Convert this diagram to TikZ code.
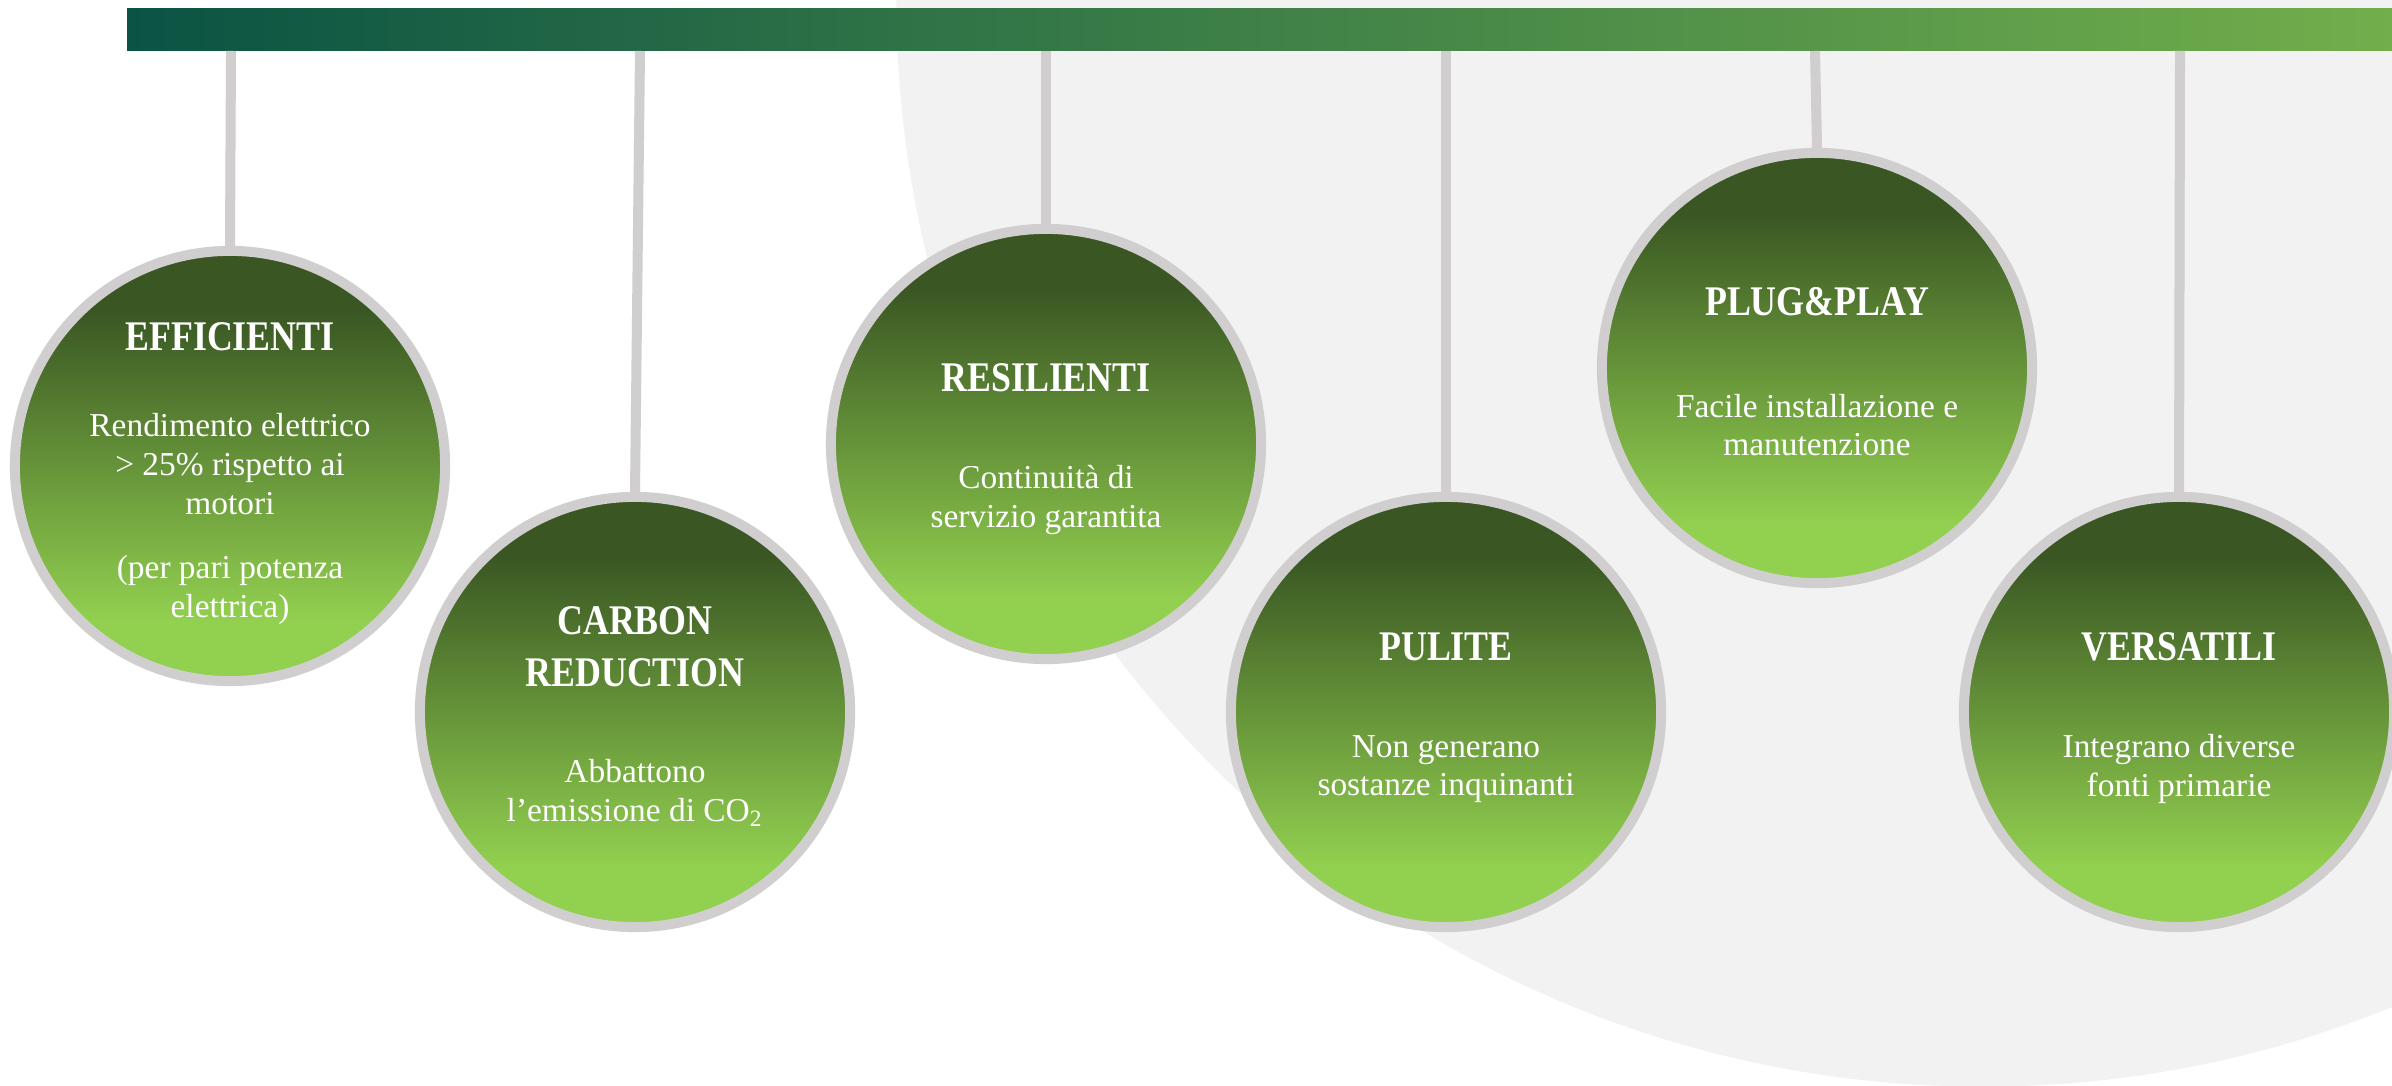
\documentclass[tikz,border=0pt]{standalone}
\usepackage{fontspec}
\usepackage{tikz}
\setmainfont{Liberation Serif}
\newfontfamily\headfont[FakeStretch=0.85]{Liberation Serif}
\definecolor{leafdark}{RGB}{58,87,35}
\definecolor{leaflight}{RGB}{146,208,80}
\definecolor{ringgray}{RGB}{208,206,207}
\definecolor{paper}{RGB}{242,242,242}
\definecolor{railstart}{RGB}{11,83,68}
\definecolor{railend}{RGB}{114,174,75}
\pgfdeclareverticalshading{leaf}{100bp}{color(0bp)=(leaflight); color(32bp)=(leaflight); color(68bp)=(leafdark); color(100bp)=(leafdark)}

\tikzset{
  bead/.style={circle, minimum size=4.3cm, inner sep=0pt, draw=ringgray, line width=1mm, shade, shading=leaf},
  cord/.style={draw=ringgray, line width=1mm},
  head/.style={text=white, align=center, font=\headfont\bfseries\fontsize{12}{14.8}\selectfont},
  note/.style={text=white, align=center, font=\fontsize{9.5}{11}\selectfont},
}

\begin{document}
\begin{tikzpicture}[x=0.01cm, y=-0.01cm]
    \useasboundingbox (0,0) rectangle (2392,1086);
    \clip (0,0) rectangle (2392,1086);
    \fill[white] (0,0) rectangle (2392,1086);

    % Pale disc behind the right half
    \fill[paper] (1983,0) circle [radius=10.86cm];

    % Top rail
    \shade[left color=railstart, right color=railend] (127,9) rectangle (2392,51);

    % Hanging points on the rail
    \coordinate (h1) at (231,51);
    \coordinate (h2) at (640,51);
    \coordinate (h3) at (1046,51);
    \coordinate (h4) at (1446,51);
    \coordinate (h5) at (1815,51);
    \coordinate (h6) at (2180,51);

    % Beads
    \node[bead] (efficienti) at (230,466) {};
    \node[bead] (carbon) at (635,712) {};
    \node[bead] (resilienti) at (1046,444) {};
    \node[bead] (pulite) at (1446,712) {};
    \node[bead] (plugplay) at (1817,368) {};
    \node[bead] (versatili) at (2179,712) {};

    % Cords
    \draw[cord] (h1) -- (efficienti.north);
    \draw[cord] (h2) -- (carbon.north);
    \draw[cord] (h3) -- (resilienti.north);
    \draw[cord] (h4) -- (pulite.north);
    \draw[cord] (h5) -- (plugplay.north);
    \draw[cord] (h6) -- (versatili.north);

    % Labels
    \node[head] (efficienti-t) at (230,337) {EFFICIENTI};
    \node[note] (efficienti-b) at (230,464) {Rendimento elettrico\\> 25\% rispetto ai\\motori};
    \node[note] (efficienti-n) at (230,590) {(per pari potenza\\elettrica)};

    \node[head] (carbon-t) at (635,647) {CARBON\\REDUCTION};
    \node[note] (carbon-b) at (635,793) {Abbattono\\l’emissione di CO\textsubscript{2}};

    \node[head] (resilienti-t) at (1046,378) {RESILIENTI};
    \node[note] (resilienti-b) at (1046,500) {Continuità di\\servizio garantita};

    \node[head] (pulite-t) at (1446,647) {PULITE};
    \node[note] (pulite-b) at (1446,769) {Non generano\\sostanze inquinanti};

    \node[head] (plugplay-t) at (1817,302) {PLUG\&PLAY};
    \node[note] (plugplay-b) at (1817,425) {Facile installazione e\\manutenzione};

    \node[head] (versatili-t) at (2179,647) {VERSATILI};
    \node[note] (versatili-b) at (2179,769) {Integrano diverse\\fonti primarie};
\end{tikzpicture}
\end{document}
